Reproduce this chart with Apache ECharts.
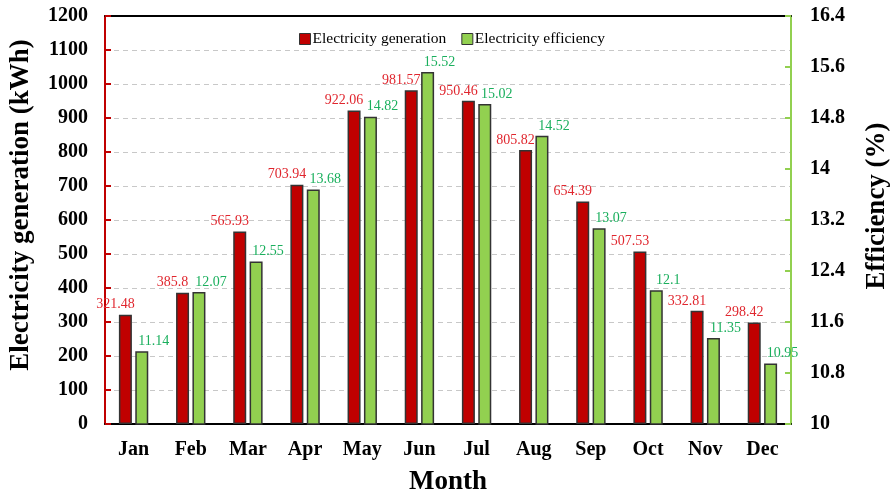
<!DOCTYPE html>
<html>
<head>
<meta charset="utf-8">
<script src="https://cdn.jsdelivr.net/npm/echarts@6/dist/echarts.min.js"></script>
<style>
  html, body { margin: 0; padding: 0; background: #fff; }
  #chart { width: 890px; height: 491px; }
</style>
</head>
<body>
<div id="chart"></div>
<script>
// monthly data
var months = ['Jan', 'Feb', 'Mar', 'Apr', 'May', 'Jun', 'Jul', 'Aug', 'Sep', 'Oct', 'Nov', 'Dec']
var generation = [321.48, 385.8, 565.93, 703.94, 922.06, 981.57, 950.46, 805.82, 654.39, 507.53, 332.81, 298.42]
var efficiency = [11.14, 12.07, 12.55, 13.68, 14.82, 15.52, 15.02, 14.52, 13.07, 12.1, 11.35, 10.95]
var effTicks = [10, 10.8, 11.6, 12.4, 13.2, 14, 14.8, 15.6, 16.4]

var serif = '"Liberation Serif", "Times New Roman", serif'
var chart = echarts.init(document.getElementById('chart'))

var boldLabel = { fontFamily: serif, fontSize: 20, fontWeight: 'bold', color: '#000' }
var bigName = { fontFamily: serif, fontSize: 27, fontWeight: 'bold', color: '#000' }

chart.setOption({
  animation: false,
  textStyle: { fontFamily: serif },
  grid: {
    left: 105,
    right: 99,
    top: 16,
    bottom: 67,
    outerBoundsMode: 'none'
  },
  legend: {
    top: 26,
    left: 294,
    icon: 'rect',
    itemWidth: 11,
    itemHeight: 11,
    itemGap: 15,
    textStyle: { fontFamily: serif, fontSize: 15.5, color: '#000', padding: [0, 0, 0, -3] },
    itemStyle: { borderColor: '#333', borderWidth: 1 },
    data: ['Electricity generation', 'Electricity efficiency']
  },
  xAxis: [{
    type: 'category',
    data: months,
    name: 'Month',
    nameLocation: 'middle',
    nameGap: 45,
    nameTextStyle: bigName,
    axisLine: { lineStyle: { color: '#000', width: 2 } },
    axisTick: { show: false },
    axisLabel: Object.assign({ margin: 16 }, boldLabel)
  }, {
    // top frame line only
    type: 'category',
    data: months,
    position: 'top',
    axisLine: { lineStyle: { color: '#000', width: 2 } },
    axisTick: { show: false },
    axisLabel: { show: false }
  }],
  yAxis: [{
    type: 'value',
    min: 0,
    max: 1200,
    interval: 100,
    name: 'Electricity generation (kWh)',
    nameLocation: 'middle',
    nameGap: 70,
    nameTextStyle: Object.assign({ padding: [0, 0, 0, 30] }, bigName),
    axisLine: { show: true, lineStyle: { color: '#c00000', width: 2 } },
    axisTick: { show: true, inside: true, length: 6, lineStyle: { color: '#c00000', width: 2 } },
    axisLabel: Object.assign({ margin: 17, formatter: function (v) { return String(v) } }, boldLabel),
    splitLine: { show: true, lineStyle: { color: '#c8c8c8', width: 1, type: [5, 4] } }
  }, {
    type: 'value',
    min: 10,
    max: 16.4,
    position: 'right',
    name: 'Efficiency (%)',
    nameLocation: 'middle',
    nameGap: 73,
    nameTextStyle: Object.assign({ padding: [0, 0, 0, 28] }, bigName),
    axisLine: { show: true, lineStyle: { color: '#92d050', width: 2 } },
    axisTick: { show: true, inside: true, length: 6, customValues: effTicks, lineStyle: { color: '#92d050', width: 2 } },
    axisLabel: Object.assign({ margin: 19, customValues: effTicks, formatter: function (v) { return String(v) } }, boldLabel),
    splitLine: { show: false }
  }],
  series: [{
    name: 'Electricity generation',
    type: 'bar',
    yAxisIndex: 0,
    data: generation,
    barWidth: 13,
    barGap: '26%',
    itemStyle: { color: '#c00000', borderColor: '#333', borderWidth: 1.5 },
    label: {
      show: true,
      position: 'top',
      distance: 3,
      offset: [-10, 0],
      fontFamily: serif,
      fontSize: 14,
      color: '#e0262e'
    }
  }, {
    name: 'Electricity efficiency',
    type: 'bar',
    yAxisIndex: 1,
    data: efficiency,
    barWidth: 13,
    itemStyle: { color: '#92d050', borderColor: '#333', borderWidth: 1.5 },
    label: {
      show: true,
      position: 'top',
      distance: 3,
      offset: [12, 0],
      fontFamily: serif,
      fontSize: 14,
      color: '#1aaf5d'
    }
  }]
})
</script>
</body>
</html>
